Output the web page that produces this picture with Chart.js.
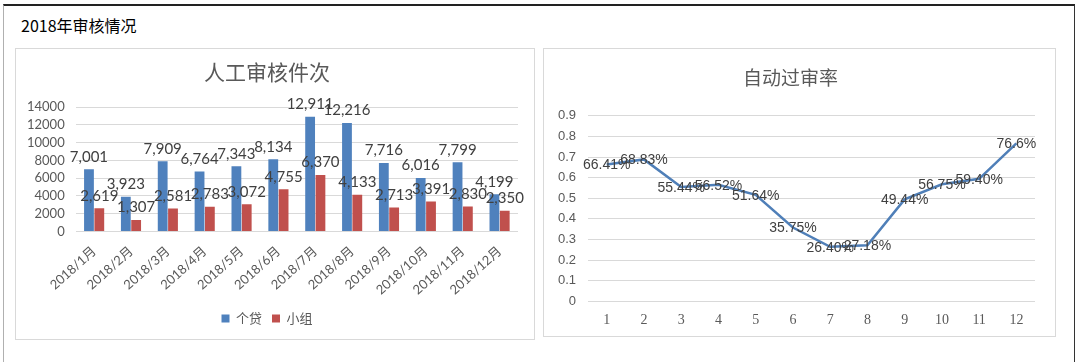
<!DOCTYPE html>
<html>
<head>
<meta charset="utf-8">
<script src="https://cdn.jsdelivr.net/npm/chart.js@4"></script>
<style>
  html, body { margin: 0; padding: 0; background: #fff; }
  body { width: 1080px; height: 362px; position: relative; overflow: hidden; font-family: "Noto Sans CJK SC", sans-serif; }
  #frame { position: absolute; left: 3px; top: 4px; width: 1070px; height: 370px; border-top: 2px solid #222; border-left: 1px solid #b0b0b0; border-right: 1px solid #333; }
  #heading { position: absolute; left: 21px; top: 13px; font-size: 16px; color: #000; font-family: "Noto Sans CJK SC", serif; font-weight: normal; }
  .box { position: absolute; border: 1px solid #d9d9d9; background: #fff; }
  #leftBox { left: 15px; top: 48px; width: 518px; height: 290px; }
  #rightBox { left: 543px; top: 48px; width: 511px; height: 287px; }
</style>
</head>
<body>
<div id="frame"></div>
<div id="heading">2018年审核情况</div>
<div class="box" id="leftBox"><canvas id="barChart"></canvas></div>
<div class="box" id="rightBox"><canvas id="lineChart"></canvas></div>
<script>
// 人工审核件次
const months = ['2018/1月', '2018/2月', '2018/3月', '2018/4月', '2018/5月', '2018/6月',
                '2018/7月', '2018/8月', '2018/9月', '2018/10月', '2018/11月', '2018/12月'];
const personalLoan = [7001, 3923, 7909, 6764, 7343, 8134, 12911, 12216, 7716, 6016, 7799, 4199];
const groupLoan = [2619, 1307, 2581, 2783, 3072, 4755, 6370, 4133, 2713, 3391, 2830, 2350];

// 自动过审率
const rateCats = ['1', '2', '3', '4', '5', '6', '7', '8', '9', '10', '11', '12'];
const passRate = [0.6641, 0.6883, 0.5544, 0.5652, 0.5164, 0.3575, 0.2640, 0.2718, 0.4944, 0.5675, 0.5940, 0.766];
const passRateLabels = ['66.41%', '68.83%', '55.44%', '56.52%', '51.64%', '35.75%', '26.40%', '27.18%', '49.44%', '56.75%', '59.40%', '76.6%'];

const gridColor = '#d9d9d9';
const tickColor = '#595959';

// draws the value labels next to each bar / point
const valueLabels = {
    id: 'valueLabels',
    afterDatasetsDraw(chart, args, opts) {
        const ctx = chart.ctx;
        ctx.save();
        ctx.font = opts.font;
        ctx.fillStyle = opts.color;
        ctx.textAlign = 'center';
        chart.data.datasets.forEach((ds, i) => {
            const meta = chart.getDatasetMeta(i);
            meta.data.forEach((el, j) => {
                const text = opts.format(ds, j);
                if (opts.mode === 'bar') {
                    ctx.textBaseline = 'bottom';
                    ctx.fillText(text, el.x, el.y - 5);
                } else {
                    ctx.textBaseline = 'middle';
                    ctx.fillText(text, el.x, el.y + 1);
                }
            });
        });
        ctx.restore();
    }
};

new Chart(document.getElementById('barChart'), {
    type: 'bar',
    data: {
        labels: months,
        datasets: [
            { label: '个贷', data: personalLoan, backgroundColor: '#4f81bd' },
            { label: '小组', data: groupLoan, backgroundColor: '#c0504d' }
        ]
    },
    options: {
        responsive: true,
        maintainAspectRatio: false,
        animation: false,
        datasets: { bar: { categoryPercentage: 0.56, barPercentage: 0.95 } },
        layout: { padding: { left: 0, right: 16, top: 0, bottom: 4 } },
        scales: {
            x: {
                grid: { display: false },
                border: { display: false },
                ticks: { color: tickColor, font: { family: 'Lato, "Noto Sans CJK SC"', size: 13 }, minRotation: 42, maxRotation: 42, padding: 4 }
            },
            y: {
                min: 0, max: 14000,
                grid: { color: gridColor, drawTicks: false },
                border: { display: false },
                ticks: { stepSize: 2000, autoSkip: false, color: tickColor, font: { family: 'Lato', size: 13 }, padding: 11, callback: v => String(v) }
            }
        },
        plugins: {
            title: { display: true, text: '人工审核件次', color: tickColor, font: { family: '"Noto Sans CJK SC"', size: 21, weight: 'normal' }, padding: { top: 10, bottom: 23 } },
            legend: {
                position: 'bottom',
                labels: { boxWidth: 8, boxHeight: 8, color: tickColor, font: { family: '"Noto Sans CJK SC"', size: 13 }, padding: 10 }
            },
            tooltip: { enabled: false },
            valueLabels: {
                mode: 'bar',
                font: '15px Lato',
                color: '#404040',
                format: (ds, j) => ds.data[j].toLocaleString('en-US')
            }
        }
    },
    plugins: [valueLabels]
});

new Chart(document.getElementById('lineChart'), {
    type: 'line',
    data: {
        labels: rateCats,
        datasets: [
            { label: '自动过审率', data: passRate, borderColor: '#4f7fb8', borderWidth: 2.5, pointRadius: 0, tension: 0 }
        ]
    },
    options: {
        responsive: true,
        maintainAspectRatio: false,
        animation: false,
        layout: { padding: { left: 2, right: 20, top: 0, bottom: 4 } },
        scales: {
            x: {
                offset: true,
                grid: { display: false },
                border: { display: false },
                ticks: { color: tickColor, font: { family: '"Liberation Serif"', size: 14 }, padding: 3 }
            },
            y: {
                min: 0, max: 0.9,
                grid: { color: gridColor, drawTicks: false },
                border: { display: false },
                ticks: { stepSize: 0.1, autoSkip: false, color: tickColor, font: { family: '"Liberation Sans"', size: 13 }, padding: 12 }
            }
        },
        plugins: {
            title: { display: true, text: '自动过审率', color: tickColor, font: { family: '"Noto Sans CJK SC"', size: 19, weight: 'normal' }, padding: { top: 17, bottom: 27 } },
            legend: { display: false },
            tooltip: { enabled: false },
            valueLabels: {
                mode: 'line',
                font: '14px "Liberation Sans"',
                color: '#404040',
                format: (ds, j) => passRateLabels[j]
            }
        }
    },
    plugins: [valueLabels]
});
</script>
</body>
</html>
